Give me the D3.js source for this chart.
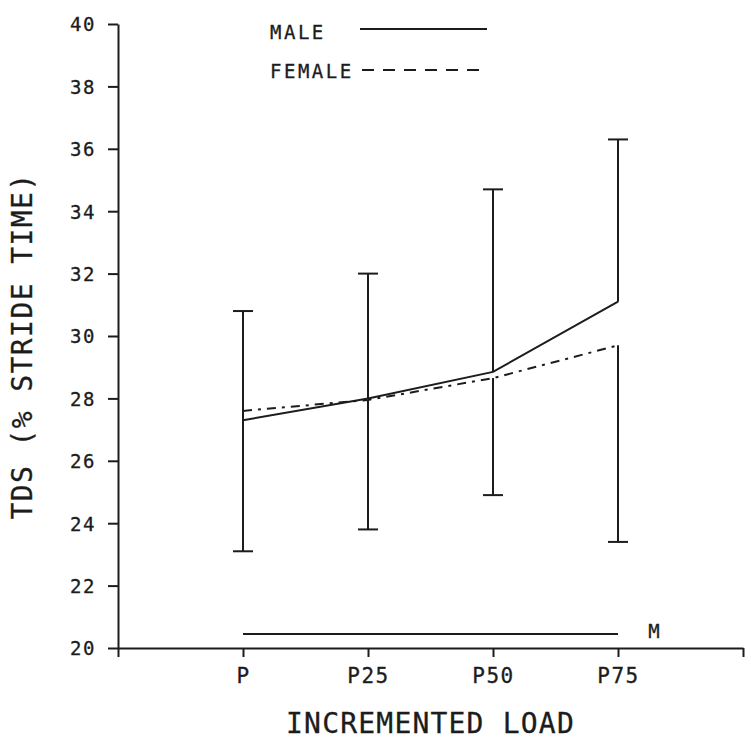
<!DOCTYPE html>
<html>
<head>
<meta charset="utf-8">
<script src="https://cdn.jsdelivr.net/npm/d3@7"></script>
<style>
  html, body { margin: 0; padding: 0; background: #fff; }
  text { font-family: "DejaVu Sans Mono", monospace; fill: #1c1c1c; stroke: #1c1c1c; stroke-width: 0.3px; }
</style>
</head>
<body>
<div id="container"></div>
<script>
// data
const categories = ["P", "P25", "P50", "P75"];
const maleMean = [27.3, 28.0, 28.85, 31.1];
const femaleMean = [27.6, 27.95, 28.65, 29.7];
const maleUpper = [30.8, 32.0, 34.7, 36.3];   // male mean + SD
const femaleLower = [23.1, 23.8, 24.9, 23.4]; // female mean - SD
const yTicks = [20, 22, 24, 26, 28, 30, 32, 34, 36, 38, 40];
const sigBar = { from: "P", to: "P75", level: 20.45, label: "M" };

const width = 751, height = 745;
const ink = "#1c1c1c";

const svg = d3.create("svg")
    .attr("width", width)
    .attr("height", height)
    .attr("viewBox", [0, 0, width, height]);

svg.append("rect").attr("width", width).attr("height", height).attr("fill", "#fff");

const x = d3.scaleLinear().domain([0, 5]).range([118, 743]);
const y = d3.scaleLinear().domain([20, 40]).range([648, 24]);
const xc = c => x(categories.indexOf(c) + 1);

/* ------------------ AXES ------------------ */
const yAxis = svg.append("g")
    .attr("transform", `translate(${x(0)},0)`)
    .call(d3.axisLeft(y).tickValues(yTicks).tickSize(10).tickSizeOuter(0).tickPadding(12));
yAxis.selectAll("text")
    .attr("font-size", 19)
    .attr("letter-spacing", 1.5)
    .attr("dy", "0.36em");

const xAxis = svg.append("g")
    .attr("transform", `translate(0,${y(20)})`)
    .call(d3.axisBottom(x)
        .tickValues([0, 1, 2, 3, 4, 5])
        .tickFormat(i => categories[i - 1] || "")
        .tickSize(9).tickSizeOuter(0).tickPadding(6));
xAxis.selectAll("text")
    .attr("font-size", 21)
    .attr("letter-spacing", 1.5)
    .attr("dy", "0.95em");

svg.selectAll(".domain, .tick line")
    .attr("stroke", ink)
    .attr("stroke-width", 2);
svg.selectAll(".tick text").attr("fill", ink).attr("font-family", "DejaVu Sans Mono, monospace");

/* ------------------ AXIS TITLES ------------------ */
svg.append("text")
    .attr("x", (x(0) + x(5)) / 2)
    .attr("y", 733)
    .attr("text-anchor", "middle")
    .attr("font-size", 28)
    .attr("letter-spacing", 1.2)
    .text("INCREMENTED LOAD");

svg.append("text")
    .attr("transform", `translate(32,346) rotate(-90)`)
    .attr("text-anchor", "middle")
    .attr("font-size", 28)
    .attr("letter-spacing", 1.4)
    .text("TDS (% STRIDE TIME)");

/* ------------------ ERROR BARS ------------------ */
const capW = 10;
categories.forEach((c, i) => {
    const cx = xc(c);
    const g = svg.append("g").attr("stroke", ink).attr("stroke-width", 2).attr("fill", "none");
    // upper arm from male mean
    g.append("line").attr("x1", cx).attr("x2", cx).attr("y1", y(maleMean[i])).attr("y2", y(maleUpper[i]));
    g.append("line").attr("x1", cx - capW).attr("x2", cx + capW).attr("y1", y(maleUpper[i])).attr("y2", y(maleUpper[i]));
    // lower arm from female mean
    g.append("line").attr("x1", cx).attr("x2", cx).attr("y1", y(femaleMean[i])).attr("y2", y(femaleLower[i]));
    g.append("line").attr("x1", cx - capW).attr("x2", cx + capW).attr("y1", y(femaleLower[i])).attr("y2", y(femaleLower[i]));
});

/* ------------------ MEAN LINES ------------------ */
const line = d3.line().x((d, i) => xc(categories[i])).y(d => y(d));

svg.append("path")
    .datum(maleMean)
    .attr("d", line)
    .attr("fill", "none")
    .attr("stroke", ink)
    .attr("stroke-width", 2);

svg.append("path")
    .datum(femaleMean)
    .attr("d", line)
    .attr("fill", "none")
    .attr("stroke", ink)
    .attr("stroke-width", 2)
    .attr("stroke-dasharray", "9,6,3,6");

/* ------------------ SIGNIFICANCE BAR ------------------ */
svg.append("line")
    .attr("x1", xc(sigBar.from))
    .attr("x2", xc(sigBar.to))
    .attr("y1", y(sigBar.level))
    .attr("y2", y(sigBar.level))
    .attr("stroke", ink)
    .attr("stroke-width", 2);

svg.append("text")
    .attr("x", xc(sigBar.to) + 36)
    .attr("y", y(sigBar.level) + 4)
    .attr("text-anchor", "middle")
    .attr("font-size", 19)
    .text(sigBar.label);

/* ------------------ LEGEND ------------------ */
const legend = svg.append("g");
legend.append("text").attr("x", 270).attr("y", 39).attr("font-size", 19).attr("letter-spacing", 2.5).text("MALE");
legend.append("line")
    .attr("x1", 360).attr("x2", 487).attr("y1", 29).attr("y2", 29)
    .attr("stroke", ink).attr("stroke-width", 2);
legend.append("text").attr("x", 270).attr("y", 78).attr("font-size", 19).attr("letter-spacing", 2.5).text("FEMALE");
legend.append("line")
    .attr("x1", 362).attr("x2", 487).attr("y1", 70).attr("y2", 70)
    .attr("stroke", ink).attr("stroke-width", 2)
    .attr("stroke-dasharray", "12,9");

document.getElementById("container").append(svg.node());
</script>
</body>
</html>
